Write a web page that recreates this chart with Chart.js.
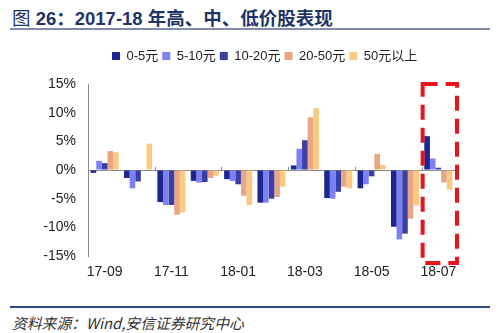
<!DOCTYPE html>
<html>
<head>
<meta charset="utf-8">
<script src="https://cdn.jsdelivr.net/npm/chart.js@4.4.0/dist/chart.umd.min.js"></script>
<style>
  body { margin: 0; width: 500px; height: 333px; background: #fff; position: relative; overflow: hidden; }
  #title { position: absolute; left: 12px; top: 4px; line-height: 22px; font: bold 18.5px "Liberation Sans", "Noto Sans CJK SC", sans-serif; color: #1f3566; white-space: nowrap; }
  #title .fig { font-weight: normal; }
  #rule1 { position: absolute; left: 10px; top: 28px; width: 480px; height: 2px; background: #7f8cab; }
  #rule2 { position: absolute; left: 10px; top: 306px; width: 480px; height: 2px; background: #2b4a86; }
  #source { position: absolute; left: 12px; top: 312px; line-height: 20px; font: italic 14.8px "Noto Sans CJK SC", sans-serif; color: #333; white-space: nowrap; }
  #wrap { position: absolute; left: 0; top: 42px; width: 500px; height: 262px; }
</style>
</head>
<body>
<div id="title"><span class="fig">图</span> 26：2017-18 年高、中、低价股表现</div>
<div id="rule1"></div>
<div id="wrap"><canvas id="chart-perf"></canvas></div>
<div id="rule2"></div>
<div id="source">资料来源：Wind,安信证券研究中心</div>
<script>
const colors = {
  navy: "#1b2690",
  periwinkle: "#7b80f2",
  indigo: "#3a3fa6",
  salmon: "#e9a683",
  apricot: "#fbc981",
};

const labels = ["17-09", "17-10", "17-11", "17-12", "18-01", "18-02", "18-03", "18-04", "18-05", "18-06", "18-07"];

const p0to5 = [-0.5, -1.4, -5.6, -1.9, -1.6, -5.7, 0.8, -4.9, -3.2, -9.9, 5.9];
const p5to10 = [1.6, -3.2, -6.1, -2.2, -1.9, -5.7, 3.7, -5.0, -2.5, -12.1, 2.0];
const p10to20 = [1.2, -2.0, -6.1, -2.1, -2.5, -5.0, 5.2, -3.8, -1.1, -11.1, 0.4];
const p20to50 = [3.3, 0, -7.8, -1.4, -4.5, -4.7, 9.2, -2.9, 2.8, -8.5, -2.2];
const p50up = [3.1, 4.6, -7.4, -1.0, -6.1, -2.9, 10.8, -3.2, 0.9, -6.2, -3.4];

const highlightIndex = 10;

const fontMain = '"Liberation Sans", "Noto Sans CJK SC", sans-serif';

function series(label, color, data) {
  return {
    label: label,
    backgroundColor: color,
    borderColor: color,
    borderWidth: 0,
    data: data,
    categoryPercentage: 0.84,
    barPercentage: 1.0,
  };
}

// red dashed frame around the last month + small ticks on the zero line
const extras = {
  id: "extras",
  afterDatasetsDraw(chart) {
    const x = chart.scales.x;
    const y = chart.scales.y;
    const step = x.getPixelForValue(1) - x.getPixelForValue(0);
    const ctx = chart.ctx;
    const y0 = y.getPixelForValue(0);
    ctx.save();
    ctx.strokeStyle = "#8a8a8a";
    ctx.lineWidth = 1;
    for (let i = 2; i < labels.length; i += 2) {
      const px = Math.round(x.getPixelForValue(i) - step / 2) + 0.5;
      ctx.beginPath();
      ctx.moveTo(px, y0 - 3);
      ctx.lineTo(px, y0);
      ctx.stroke();
    }
    const cx = x.getPixelForValue(highlightIndex);
    ctx.strokeStyle = "#e8141c";
    ctx.lineWidth = 4;
    ctx.setLineDash([15, 8]);
    ctx.strokeRect(cx - step / 2 + 1, y.getPixelForValue(15), step + 1, y.getPixelForValue(-15) - y.getPixelForValue(15) + 7);
    ctx.restore();
  },
};

// legend: fixed box height, first item at x=112
const legendTweak = {
  id: "legendTweak",
  beforeInit(chart) {
    const lg = chart.legend;
    const fit = lg.fit;
    lg.fit = function () {
      fit.call(this);
      this.height = 42;
    };
    const draw = lg.draw;
    lg.draw = function () {
      const pad = this.options.labels.padding;
      const dx = 112 - pad - this.left;
      const dy = 3.5 - this.top;
      this.left += dx; this.right += dx;
      this.top += dy; this.bottom += dy;
      draw.call(this);
      this.left -= dx; this.right -= dx;
      this.top -= dy; this.bottom -= dy;
    };
  },
};

function renderChartPerf() {
  const config = {
    type: "bar",
    data: {
      labels: labels,
      datasets: [
        series("0-5元", colors.navy, p0to5),
        series("5-10元", colors.periwinkle, p5to10),
        series("10-20元", colors.indigo, p10to20),
        series("20-50元", colors.salmon, p20to50),
        series("50元以上", colors.apricot, p50up),
      ],
    },
    options: {
      responsive: true,
      maintainAspectRatio: false,
      animation: false,
      layout: { padding: { left: 0, right: 45, top: 0, bottom: 0 } },
      plugins: {
        legend: {
          position: "top",
          align: "start",
          labels: {
            boxWidth: 8,
            boxHeight: 8,
            padding: 4,
            color: "#222",
            font: { family: fontMain, size: 13 },
          },
        },
        tooltip: { enabled: false },
      },
      scales: {
        x: {
          grid: { display: false, drawTicks: false },
          border: { display: false },
          ticks: {
            autoSkip: false,
            maxRotation: 0,
            padding: 8,
            color: "#222",
            font: { family: fontMain, size: 14 },
            callback: function (v, i) { return i % 2 === 0 ? labels[i] : ""; },
          },
          afterFit: (s) => { s.height = 48; },
        },
        y: {
          min: -15,
          max: 15,
          ticks: {
            stepSize: 5,
            color: "#222",
            padding: 12,
            font: { family: fontMain, size: 14 },
            callback: (v) => v + "%",
          },
          grid: {
            drawTicks: false,
            color: (c) => (c.tick && c.tick.value === 0 ? "#8a8a8a" : "transparent"),
          },
          border: { color: "#8a8a8a" },
          afterFit: (s) => { s.width = 88; },
        },
      },
    },
    plugins: [extras, legendTweak],
  };

  const myChart = new Chart(document.getElementById("chart-perf"), config);
}

renderChartPerf();
</script>
</body>
</html>
